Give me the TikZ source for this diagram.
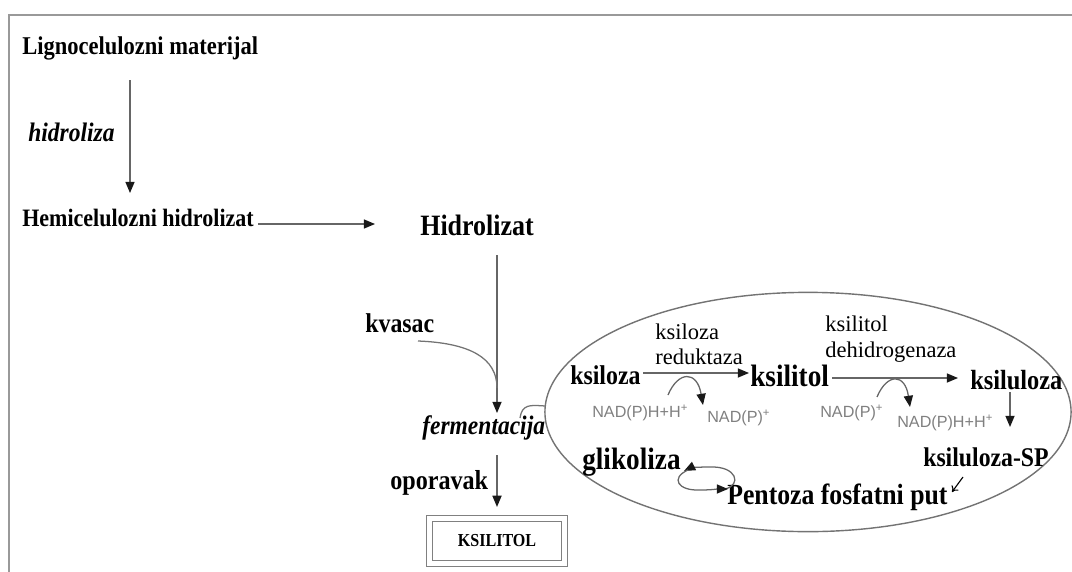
\documentclass[tikz,border=0pt]{standalone}
\usepackage{fontspec}
\setmainfont{Liberation Serif}
\newfontfamily\uski[FakeStretch=0.88]{Liberation Serif}
\newfontfamily\nadfont{Liberation Sans}
\usetikzlibrary{arrows.meta,shapes.geometric,calc}

\tikzset{
  tekst/.style={anchor=west, inner sep=0pt, font=\uski\bfseries\fontsize{#1}{#1}\selectfont},
  kurziv/.style={anchor=west, inner sep=0pt, font=\uski\bfseries\itshape\fontsize{#1}{#1}\selectfont},
  enzim/.style={anchor=west, inner sep=0pt, align=left, font=\fontsize{16}{#1}\selectfont},
  nad/.style={anchor=west, inner sep=0pt, text=black!50, font=\nadfont\fontsize{11.5}{12}\selectfont},
  kutija/.style={draw=black!50, line width=0.8pt, double, double distance=3.2pt,
    minimum width=3.375cm, minimum height=1.125cm, inner sep=0pt, font=\uski\bfseries\fontsize{13}{13}\selectfont},
  strelica/.style={draw=black!60, line width=0.9pt, -{Triangle[length=8pt,width=6.5pt,color=black!90]}},
  linija/.style={draw=black!55, line width=0.9pt},
}

\begin{document}
\begin{tikzpicture}[x=0.025cm, y=-0.025cm]
  \useasboundingbox (0,0) rectangle (1072,572);
  % okvir
  \draw [black!40, line width=2pt] (9,572) -- (9,15) -- (1072,15);

  % lijevi dio: od materijala do ksilitola
  \node [tekst=18.2] (lig) at (22,48) {Lignocelulozni materijal};
  \node [kurziv=19] (hidroliza) at (28,132) {hidroliza};
  \node [tekst=17.8] (hemi) at (22,218) {Hemicelulozni hidrolizat};
  \node [tekst=21] (hidrolizat) at (420,225) {Hidrolizat};
  \node [tekst=19.3] (kvasac) at (365,323) {kvasac};
  \node [kurziv=19] (ferm) at (422,428) {fermentacija};
  \node [tekst=19.5] (oporavak) at (390,483) {oporavak};
  \node [kutija] (ksilitolK) at (497,541) {KSILITOL};

  \draw [strelica] ($(lig.west)+(108,32)$) -- ($(hemi.west)+(108,-25)$);
  \draw [strelica] ($(hemi.west)+(236,6)$) -- ($(hidrolizat.west)+(-45,-1)$);
  \draw [strelica] ($(hidrolizat.west)+(77,30)$) -- ($(ferm.west)+(75,-15)$);
  \draw [linija] ($(kvasac.west)+(53,18)$) .. controls ($(kvasac.west)+(105,20)$) and ($(ferm.west)+(75,-70)$) .. ($(ferm.west)+(75,-40)$);
  \draw [strelica] ($(ferm.west)+(75,27)$) -- ($(ksilitolK.north)+(0,-11)$);

  % stanica
  \node [draw=black!55, line width=1pt, ellipse, inner sep=0pt,
    minimum width=13.15cm, minimum height=5.98cm] (cell) at (808,412) {};
  \draw [linija] ($(ferm.west)+(98,-10)$) .. controls ($(ferm.west)+(100,-24)$) and ($(ferm.west)+(108,-23)$) .. ($(cell.west)+(1,-6)$);

  % put ksiloze
  \node [tekst=19.3] (ksiloza) at (570,375) {ksiloza};
  \node [enzim=17.7] (enz1) at (655,344) {ksiloza\\reduktaza};
  \node [tekst=22] (ksilitol) at (750,376) {ksilitol};
  \node [nad] (nad1) at (592,413) {NAD(P)H+H\textsuperscript{+}};
  \node [nad] (nad2) at (707,418) {NAD(P)\textsuperscript{+}};
  \node [enzim=19] (enz2) at (825,339) {ksilitol\\dehidrogenaza};
  \node [tekst=19.7] (ksiluloza) at (970,380) {ksiluloza};
  \node [nad] (nad3) at (820,413) {NAD(P)\textsuperscript{+}};
  \node [nad] (nad4) at (897,423) {NAD(P)H+H\textsuperscript{+}};
  \node [tekst=19.2] (xsp) at (923,457) {ksiluloza-SP};
  \node [tekst=20.8] (ppp) at (727,497) {Pentoza fosfatni put};
  \node [tekst=22] (gli) at (582,462) {glikoliza};

  \draw [strelica] ($(ksiloza.west)+(73,-2)$) -- ($(ksilitol.west)+(-1,-3)$);
  \draw [strelica] ($(nad1.west)+(76,-18)$) .. controls ($(nad1.west)+(86,-42)$) and ($(nad2.west)+(-10,-48)$) .. ($(nad2.west)+(-4,-13)$);
  \draw [strelica] ($(ksilitol.west)+(82,2)$) -- ($(ksiluloza.west)+(-12,-2)$);
  \draw [strelica] ($(nad3.west)+(57,-16)$) .. controls ($(nad3.west)+(67,-40)$) and ($(nad4.west)+(8,-50)$) .. ($(nad4.west)+(13,-16)$);
  \draw [strelica] ($(ksiluloza.west)+(40,12)$) -- ($(xsp.west)+(87,-30)$);
  \draw [black, line width=0.8pt, -{To[length=4pt,width=6pt]}] ($(xsp.west)+(40,20)$) -- ($(ppp.west)+(225,-5)$);

  % ciklus glikoliza - pentoza fosfatni put
  \draw [strelica] ($(ppp.west)+(-2,-8)$) .. controls ($(ppp.west)+(15,-12)$) and ($(ppp.west)+(10,-31)$) .. ($(gli.west)+(128,5)$) .. controls ($(gli.west)+(115,5)$) and ($(gli.west)+(108,6)$) .. ($(gli.west)+(102,9)$);
  \draw [strelica] ($(gli.west)+(106,8)$) .. controls ($(gli.west)+(88,16)$) and ($(gli.west)+(96,29)$) .. ($(gli.west)+(118,28)$) .. controls ($(gli.west)+(130,28)$) and ($(ppp.west)+(-10,-8)$) .. ($(ppp.west)+(1,-8)$);
\end{tikzpicture}
\end{document}
